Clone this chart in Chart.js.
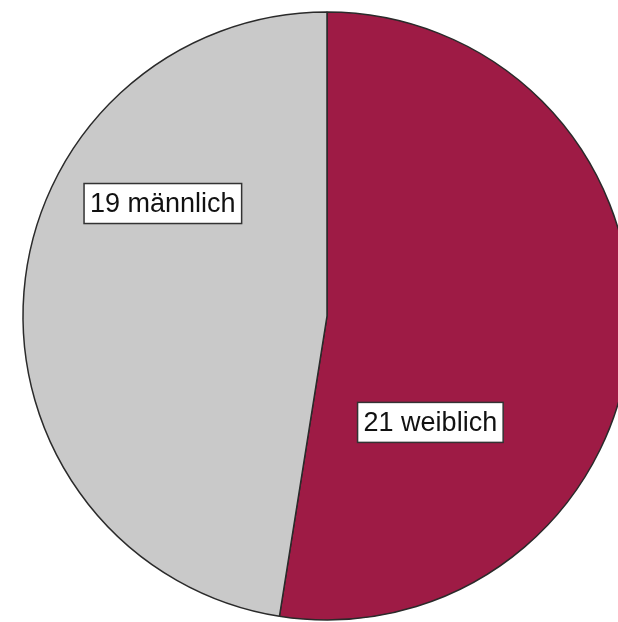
<!DOCTYPE html>
<html>
<head>
<meta charset="utf-8">
<title>Geschlecht</title>
<script src="https://cdn.jsdelivr.net/npm/chart.js@4/dist/chart.umd.min.js"></script>
<style>
  html, body { margin: 0; padding: 0; background: #fff; overflow: hidden; }
  #wrap { width: 618px; height: 622px; }
</style>
</head>
<body>
<div id="wrap"><canvas id="pieChart" width="618" height="622"></canvas></div>
<script>
const categories = ['weiblich', 'männlich'];
const counts = [21, 19];
const sliceColors = ['#9e1b45', '#c9c9c9'];

// where each label box sits, as a fraction of the radius from the centre
const labelAnchors = [
  { x: 0.34, y: 0.35 },
  { x: -0.54, y: -0.37 }
];

const boxLabels = {
  id: 'boxLabels',
  afterDatasetsDraw(chart) {
    const ctx = chart.ctx;
    const arcs = chart.getDatasetMeta(0).data;
    ctx.save();
    ctx.font = '27px "Liberation Sans", Arial, sans-serif';
    ctx.textAlign = 'center';
    ctx.textBaseline = 'middle';
    arcs.forEach((arc, i) => {
      const r = arc.outerRadius;
      const cx = arc.x + labelAnchors[i].x * r;
      const cy = arc.y + labelAnchors[i].y * r;
      const text = `${counts[i]} ${categories[i]}`;
      const w = ctx.measureText(text).width + 12;
      const h = 40;
      ctx.fillStyle = '#ffffff';
      ctx.fillRect(cx - w / 2, cy - h / 2, w, h);
      ctx.strokeStyle = '#333333';
      ctx.lineWidth = 1.5;
      ctx.strokeRect(cx - w / 2, cy - h / 2, w, h);
      ctx.fillStyle = '#111111';
      ctx.fillText(text, cx, cy + 1);
    });
    ctx.restore();
  }
};

new Chart(document.getElementById('pieChart'), {
  type: 'pie',
  data: {
    labels: categories,
    datasets: [{
      data: counts,
      backgroundColor: sliceColors,
      borderColor: '#2a2a2a',
      borderWidth: 1.5,
      radius: 304
    }]
  },
  options: {
    responsive: false,
    animation: false,
    layout: { padding: { left: 36, top: 10, right: 0, bottom: 0 } },
    plugins: {
      legend: { display: false },
      tooltip: { enabled: false }
    }
  },
  plugins: [boxLabels]
});
</script>
</body>
</html>
